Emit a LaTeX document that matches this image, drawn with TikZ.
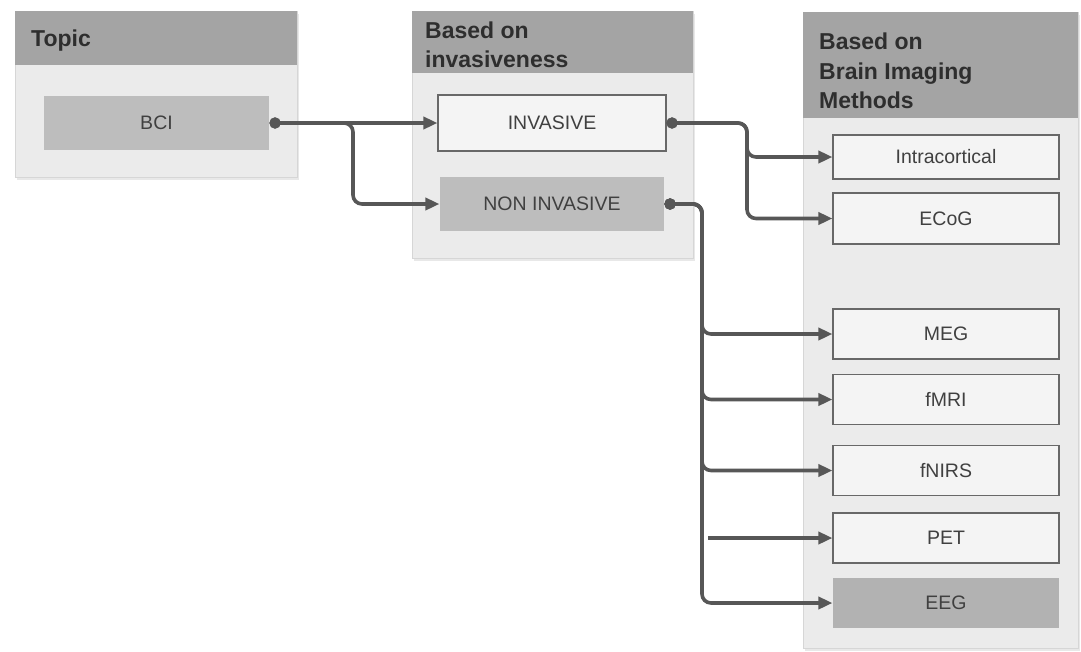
\documentclass[tikz,border=0pt]{standalone}
\usepackage{fontspec}
\setmainfont{Liberation Sans}
\usetikzlibrary{arrows.meta,shadows,calc}
\definecolor{panelbg}{HTML}{EBEBEB}
\definecolor{panelline}{HTML}{D6D6D6}
\definecolor{headfill}{HTML}{A4A4A4}
\definecolor{headink}{HTML}{2E2E2E}
\definecolor{boxink}{HTML}{404040}
\definecolor{boxline}{HTML}{686868}
\definecolor{boxwhite}{HTML}{F4F4F4}
\definecolor{boxgray}{HTML}{BDBDBD}
\definecolor{boxdark}{HTML}{B2B2B2}
\definecolor{wire}{HTML}{575757}
\tikzset{
  panel/.style={fill=panelbg, draw=panelline, line width=0.8pt,
    drop shadow={opacity=0.18, shadow xshift=1.5pt, shadow yshift=-2.5pt}},
  headbar/.style={fill=headfill},
  headtext/.style={anchor=west, align=left, text=headink, inner sep=0pt,
    font=\fontsize{23}{29.5}\selectfont\bfseries},
  plainbox/.style={draw=boxline, line width=1.1pt, fill=boxwhite, text=boxink,
    minimum width=226pt, minimum height=50pt, inner sep=0pt,
    font=\fontsize{19.5}{22}\selectfont},
  graybox/.style={plainbox, draw=none, fill=boxgray},
  conn/.style={draw=wire, line width=3.6pt, rounded corners=9pt,
    {Circle[length=11pt,width=11pt]}-{Triangle[length=14pt,width=12pt]}},
  feed/.style={draw=wire, line width=3.6pt, -{Triangle[length=14pt,width=12pt]}}
}
\begin{document}
\begin{tikzpicture}[x=1pt, y=-1pt]
\useasboundingbox[fill=white] (0,0) rectangle (1081,651);

% three column panels with their header bars
\path[panel] (15,11) rectangle (297,177);
\fill[headbar] (15,11) rectangle (297,65);
\path[panel] (412,11) rectangle (693,258);
\fill[headbar] (412,11) rectangle (693,73);
\path[panel] (803,12) rectangle (1078,648);
\fill[headbar] (803,12) rectangle (1078,118);

\node[headtext] (htopic) at (31,41) {Topic};
\node[headtext] (hinv) at (425,45) {Based on\\invasiveness};
\node[headtext] (himg) at (819,71) {Based on\\Brain Imaging\\Methods};

% items
\node[graybox, minimum width=225pt, minimum height=54pt] (bci) at (156.5,123) {BCI};
\node[plainbox, minimum width=228pt, minimum height=56pt] (inv) at (552,123) {INVASIVE};
\node[graybox, minimum width=224pt, minimum height=54pt] (noninv) at (552,204) {NON INVASIVE};

\node[plainbox, minimum height=44pt] (intra) at (946,157) {Intracortical};
\node[plainbox, minimum height=51pt] (ecog) at (946,218.5) {ECoG};
\node[plainbox] (meg) at (946,334) {MEG};
\node[plainbox] (fmri) at (946,399.5) {fMRI};
\node[plainbox] (fnirs) at (946,470.5) {fNIRS};
\node[plainbox] (pet) at (946,538) {PET};
\node[graybox, fill=boxdark] (eeg) at (946,603) {EEG};

% routing columns
\coordinate (colA) at (353,0);
\coordinate (colB) at (747,0);
\coordinate (colC) at (702,0);
\coordinate (petfeed) at (708,538);

% connectors
\draw[conn] (bci.east) -- (inv.west);
\draw[conn] (bci.east) -- (bci.east -| colA) |- (noninv.west);

\draw[conn] (inv.east) -- (inv.east -| colB) |- (intra.west);
\draw[conn] (inv.east) -- (inv.east -| colB) |- (ecog.west);

\draw[conn] (noninv.east) -- (noninv.east -| colC) |- (meg.west);
\draw[conn] (noninv.east) -- (noninv.east -| colC) |- (fmri.west);
\draw[conn] (noninv.east) -- (noninv.east -| colC) |- (fnirs.west);
\draw[conn] (noninv.east) -- (noninv.east -| colC) |- (eeg.west);
\draw[feed] (petfeed) -- (pet.west);
\end{tikzpicture}
\end{document}
